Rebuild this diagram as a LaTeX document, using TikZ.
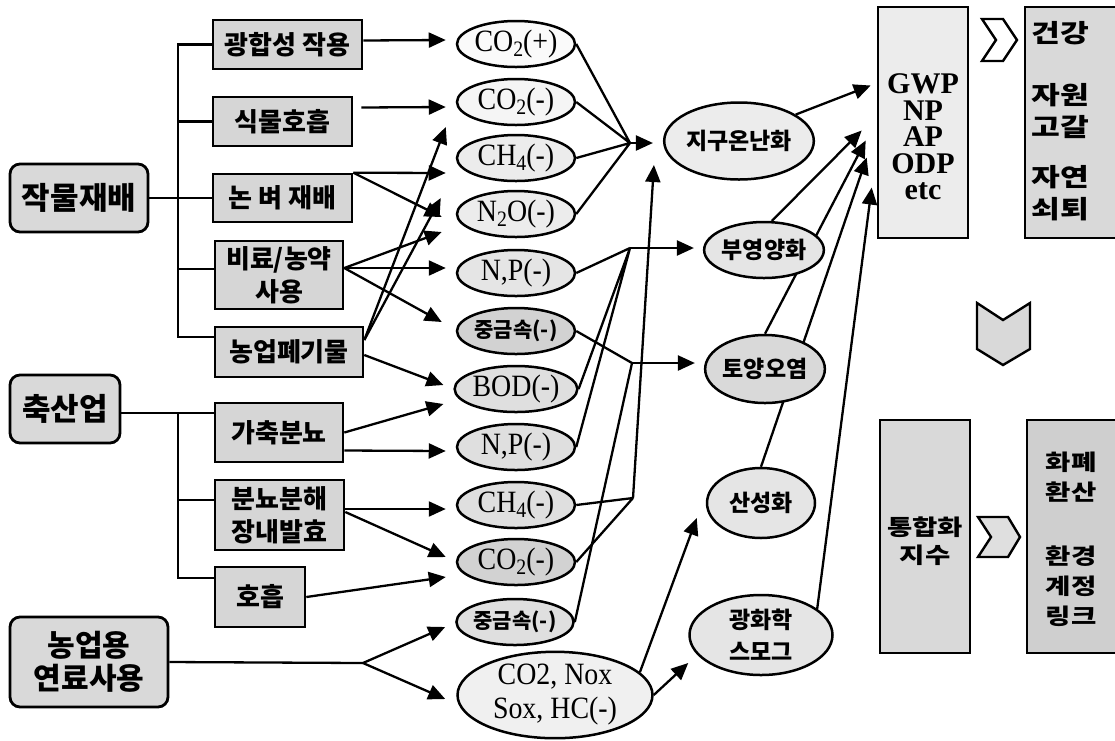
\documentclass[tikz,border=0pt]{standalone}
\usepackage{fontspec}
\setmainfont{Liberation Serif}
\newfontfamily\kr{Noto Sans CJK KR}
\newfontfamily\krw[FakeStretch=1.25]{Noto Sans CJK KR}
\newfontfamily\gf[FakeStretch=0.9]{Liberation Serif}
\usetikzlibrary{arrows.meta,shapes.geometric,backgrounds}
\newcommand\mysub[1]{\raisebox{-0.36ex}{\fontsize{22}{22}\selectfont #1}}
\newcommand\fs[2]{\fontsize{#1}{#2}\selectfont}
\tikzset{
  bigbox/.style={draw, line width=2.8pt, rounded corners=10pt, fill=gray!30, inner sep=0pt, align=center, font=\kr\bfseries\fs{31}{34}},
  midbox/.style={draw, line width=2.6pt, fill=gray!32, inner sep=0pt, align=center, font=\kr\bfseries\fs{26}{33}},
  gas/.style={draw, ellipse, line width=2.5pt, inner sep=0pt, minimum width=118pt, minimum height=46pt, font=\gf\fs{31}{34}},
  gaskr/.style={gas, font=\kr\bfseries\fs{21}{24}},
  effect/.style={draw, ellipse, line width=2.5pt, inner sep=0pt, align=center, font=\kr\bfseries\fs{23}{32}},
  panel/.style={draw, line width=2.6pt, inner sep=0pt},
  paneltxt/.style={align=center, inner sep=0pt, font=\krw\bfseries\fs{25}{32}},
  chev/.style={draw, line width=2.4pt, line join=miter},
  conn/.style={line width=2.3pt},
  arr/.style={conn, -{Triangle[length=17pt,width=15pt]}},
}
\begin{document}
\begin{tikzpicture}[x=1pt,y=-1pt]
\useasboundingbox (0,0) rectangle (1115,740);
\clip (0,0) rectangle (1115,740);

% sources
\node[bigbox, minimum width=138pt, minimum height=68pt] (crop) at (79,198) {작물재배};
\node[bigbox, minimum width=110pt, minimum height=68pt] (live) at (65,409) {축산업};
\node[bigbox, minimum width=158pt, minimum height=90pt, font=\kr\bfseries\fs{30}{33}] (fuel) at (89,662) {농업용\\연료사용};

% activities
\node[midbox, minimum width=149pt, minimum height=49pt] (photo) at (287.5,44.5) {광합성 작용};
\node[midbox, minimum width=139pt, minimum height=49pt] (resp) at (282.5,121.5) {식물호흡};
\node[midbox, minimum width=139pt, minimum height=48pt] (rice) at (282.5,198) {논\hspace{6pt}벼\hspace{6pt}재배};
\node[midbox, minimum width=128pt, minimum height=68pt] (fert) at (279,275) {비료/농약\\사용};
\node[midbox, minimum width=148pt, minimum height=50pt] (waste) at (289,352) {농업폐기물};
\node[midbox, minimum width=128pt, minimum height=59pt] (manure) at (279,432.5) {가축분뇨};
\node[midbox, minimum width=129pt, minimum height=70pt] (decomp) at (279.5,515) {분뇨분해\\장내발효};
\node[midbox, minimum width=90pt, minimum height=60pt] (breath) at (260,597) {호흡};

% emissions
\node[gas, fill=gray!4] (e1) at (516,44) {CO\mysub{2}(+)};
\node[gas, fill=gray!8] (e2) at (516,102) {CO\mysub{2}(-)};
\node[gas, fill=gray!15] (e3) at (516,158) {CH\mysub{4}(-)};
\node[gas, fill=gray!15] (e4) at (516,214) {N\mysub{2}O(-)};
\node[gas, fill=gray!20] (e5) at (516,273) {N,P(-)};
\node[gaskr, fill=gray!35] (e6) at (516,331) {중금속(-)};
\node[gas, fill=gray!25] (e7) at (516,389) {BOD(-)};
\node[gas, fill=gray!25] (e8) at (516,447) {N,P(-)};
\node[gas, fill=gray!25] (e9) at (516,505) {CH\mysub{4}(-)};
\node[gas, fill=gray!35] (e10) at (516,562) {CO\mysub{2}(-)};
\node[gaskr, fill=gray!25, minimum width=116pt] (e11) at (515,622) {중금속(-)};
\node[gas, fill=gray!12, minimum width=195pt, minimum height=84pt, align=center, font=\gf\fs{31}{34}] (comb) at (555,695) {CO2, Nox\\Sox, HC(-)};

% effects
\node[effect, fill=gray!15, minimum width=125pt, minimum height=77pt] (f1) at (739,141) {지구온난화};
\node[effect, fill=gray!20, minimum width=116pt, minimum height=56pt] (f2) at (764,250) {부영양화};
\node[effect, fill=gray!30, minimum width=116pt, minimum height=68pt] (f3) at (765,369) {토양오염};
\node[effect, fill=gray!20, minimum width=108pt, minimum height=70pt] (f4) at (761,503) {산성화};
\node[effect, fill=gray!20, minimum width=143pt, minimum height=80pt] (f5) at (761,635) {광화학\\스모그};

% right panels
\node[panel, fill=gray!15, minimum width=90pt, minimum height=231pt] (idx) at (923,122.5) {};
\node[align=center, inner sep=0pt, font=\bfseries\fs{30}{26.5}] (idxt) at (923,137) {GWP\\NP\\AP\\ODP\\etc};
\node[panel, fill=gray!30, minimum width=100pt, minimum height=231pt] (imp) at (1075,122.5) {};
\node[paneltxt] (impa) at (1060,33) {건강};
\node[paneltxt] (impb) at (1060,111) {자원\\고갈};
\node[paneltxt] (impc) at (1060,193) {자연\\쇠퇴};
\node[panel, fill=gray!30, minimum width=90pt, minimum height=233pt] (integ) at (925,536.5) {};
\node[paneltxt, font=\krw\bfseries\fs{22}{28}] (integt) at (925,541) {통합화\\지수};
\node[panel, fill=gray!38, minimum width=98pt, minimum height=233pt] (money) at (1076,536.5) {};
\node[paneltxt, font=\krw\bfseries\fs{22}{30}] (moneya) at (1071,477) {화폐\\환산};
\node[paneltxt, font=\krw\bfseries\fs{22}{30}] (moneyb) at (1071,586) {환경\\계정\\링크};

% chevrons
\draw[chev, fill=white] (982,19) -- (1003,19) -- (1017,40) -- (1003,61) -- (982,61) -- (996,40) -- cycle;
\draw[chev, fill=gray!30] (977,303) -- (1003,320) -- (1030,303) -- (1030,349) -- (1003,365) -- (977,349) -- cycle;
\draw[chev, fill=gray!25] (978,517) -- (1008,517) -- (1020,537) -- (1008,557) -- (978,557) -- (991,537) -- cycle;

\begin{pgfonlayer}{background}
\fill[white] (0,0) rectangle (1115,740);
\coordinate (tx) at (178,0);
% crop trunk
\draw[conn] (crop.east) -- (rice.west);
\draw[conn] (photo.west) -| ([shift={(0,-15)}]waste.west -| tx) -- ([shift={(0,-15)}]waste.west);
\draw[conn] (resp.west) -- (resp.west -| tx);
\draw[conn] ([shift={(0,-6)}]fert.west) -- ([shift={(0,-6)}]fert.west -| tx);
% livestock trunk
\draw[conn] ([shift={(0,4)}]live.east) coordinate (l2) -- (l2 -| manure.west);
\draw[conn] (l2 -| tx) |- ([shift={(0,-19)}]breath.west);
\draw[conn] ([shift={(0,-15)}]decomp.west) -- ([shift={(0,-15)}]decomp.west -| tx);
% fuel
\coordinate (j0) at (363,663);
\draw[conn] (fuel.east) -- (j0);
\draw[arr] (j0) -- ([shift={(-10,5)}]e11.west);
\draw[arr] (j0) -- ([shift={(-11,4)}]comb.west);
% activities to emissions
\draw[arr] ([shift={(0,-4)}]photo.east) -- ([shift={(-10,-4)}]e1.west);
\draw[arr] ([shift={(8,-14)}]resp.east) -- ([shift={(-10,5)}]e2.west);
\draw[arr] (rice.north east) -- ([shift={(-10,15)}]e3.west);
\draw[arr] (rice.north east) -- ([shift={(-14,3)}]e4.west);
\draw[arr] ([shift={(0,-7)}]fert.east) -- ([shift={(-14,18)}]e4.west);
\draw[arr] ([shift={(0,-7)}]fert.east) -- ([shift={(-10,-5)}]e5.west);
\draw[arr] ([shift={(0,-7)}]fert.east) -- ([shift={(-14,-9)}]e6.west);
\draw[arr] ([shift={(0,-12)}]waste.east) -- ([shift={(-10,25)}]e2.west);
\draw[arr] ([shift={(0,-12)}]waste.east) -- ([shift={(-15,-16)}]e4.west);
\draw[arr] ([shift={(0,3)}]waste.east) -- ([shift={(-10,-4)}]e7.west);
\draw[arr] (manure.east) -- ([shift={(-10,15)}]e7.west);
\draw[arr] ([shift={(0,18)}]manure.east) -- ([shift={(-10,4)}]e8.west);
\draw[arr] ([shift={(0,-6)}]decomp.east) -- ([shift={(-10,4)}]e9.west);
\draw[arr] ([shift={(0,-3)}]decomp.east) -- ([shift={(-10,-5)}]e10.west);
\draw[arr] (breath.east) -- ([shift={(-10,15)}]e10.west);
% emissions to effects
\coordinate (j1) at (630,143);
\draw[conn] (e1.east) -- (j1) (e2.east) -- (j1) (e3.east) -- (j1) (e4.east) -- (j1);
\draw[arr] (j1) -- ([shift={(-10,2)}]f1.west);
\coordinate (j2) at (630,248);
\draw[conn] (e5.east) -- (j2) (e7.east) -- (j2) (e8.east) -- (j2);
\draw[arr] (j2) -- ([shift={(-9,-2)}]f2.west);
\coordinate (j3) at (632,363);
\draw[conn] (e6.east) -- (j3) (e11.east) -- (j3);
\draw[arr] (j3) -- ([shift={(-9,-6)}]f3.west);
\coordinate (j4) at (633,498);
\draw[conn] (e9.east) -- (j4) (e10.east) -- (j4);
\draw[arr] (j4) -- ([shift={(-9,24)}]f1.west);
\draw[arr] (comb.15) -- ([shift={(-9,15)}]f4.west);
\draw[arr] (comb.east) -- ([shift={(0,28)}]f5.west);
% effects to indices
\draw[arr] (f1.25) -- ([shift={(-6,-37)}]idx.west);
\draw[arr] (f2.75) -- ([shift={(-15,8)}]idx.west);
\draw[arr] (f3.north) -- ([shift={(-11,18)}]idx.west);
\draw[arr] (f4.north) -- ([shift={(-10,35)}]idx.west);
\draw[arr] (f5.25) -- ([shift={(-5,65)}]idx.west);
\end{pgfonlayer}
\end{tikzpicture}
\end{document}
